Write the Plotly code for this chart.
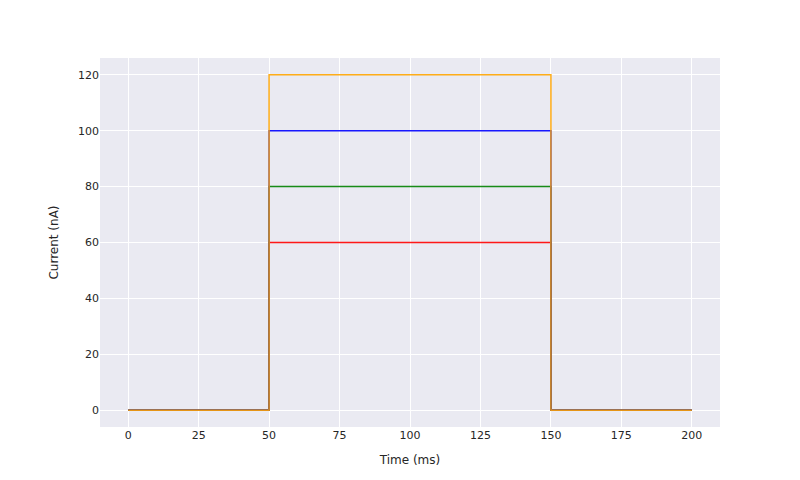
import plotly.graph_objects as go

time_ms = [0, 50, 150, 200]
amplitudes = [60, 80, 100, 120]
colors = ["red", "green", "blue", "orange"]

fig = go.Figure()
for amp, col in zip(amplitudes, colors):
    current = [0, amp, 0, 0]
    fig.add_trace(go.Scatter(
        x=time_ms, y=current, mode="lines", line_shape="hv",
        line=dict(color=col, width=1.5), opacity=0.9, showlegend=False,
    ))

font_family = "DejaVu Sans, Verdana, sans-serif"
axis_common = dict(
    showgrid=True, gridcolor="white", gridwidth=1, zeroline=False,
    showline=False, ticks="", tickfont=dict(family=font_family, size=11, color="#262626"),
    title_font=dict(family=font_family, size=12, color="#262626"),
)
fig.update_layout(
    width=800, height=480,
    font=dict(family=font_family),
    paper_bgcolor="white", plot_bgcolor="#EAEAF2",
    margin=dict(l=100, r=80, t=58, b=53),
    xaxis=dict(range=[-10, 210], tickvals=[0, 25, 50, 75, 100, 125, 150, 175, 200],
               title=dict(text="Time (ms)", standoff=14), **axis_common),
    yaxis=dict(range=[-6, 126], tickvals=[0, 20, 40, 60, 80, 100, 120],
               title=dict(text="Current (nA)", standoff=16), **axis_common),
)
fig.write_html("out.html")
